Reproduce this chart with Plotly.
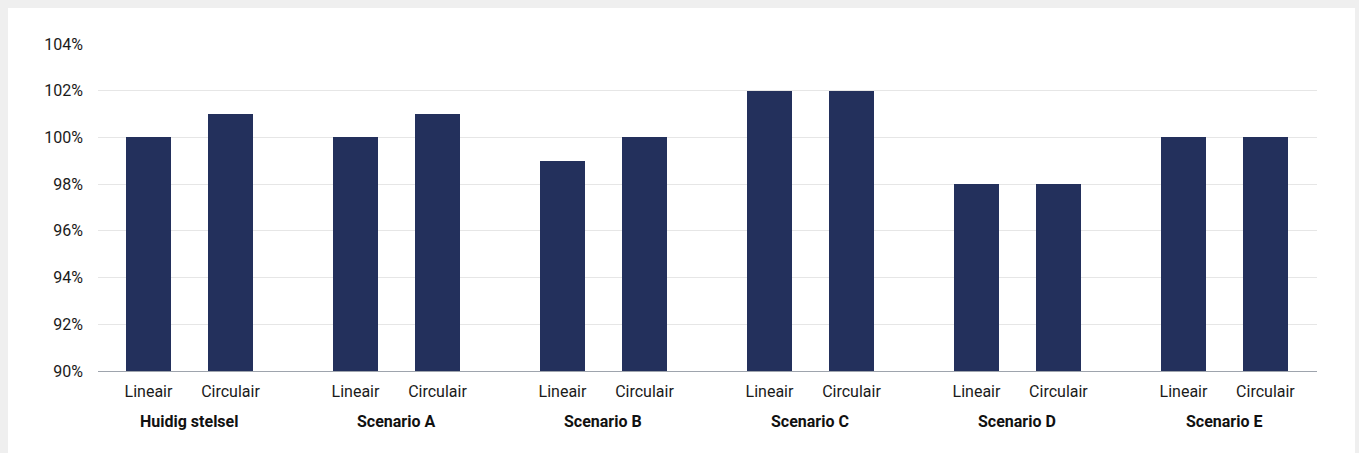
import plotly.graph_objects as go

groups = ["Huidig stelsel", "Scenario A", "Scenario B", "Scenario C", "Scenario D", "Scenario E"]
series_names = ["Lineair", "Circulair"]
lineair = [100, 100, 99, 102, 98, 100]
circulair = [101, 101, 100, 102, 98, 100]
y_ticks = [90, 92, 94, 96, 98, 100, 102, 104]

BAR = "#23305c"
OFF = 0.198
W = 0.217
FONT = "Roboto"
TXT = "#1a1a1a"

fig = go.Figure()
for name, vals, sign in [(series_names[0], lineair, -1), (series_names[1], circulair, 1)]:
    fig.add_trace(go.Bar(
        x=[i + sign * OFF for i in range(len(groups))],
        y=vals,
        width=W,
        name=name,
        marker=dict(color=BAR, line=dict(width=0)),
        hovertemplate="%{y}%<extra>" + name + "</extra>",
    ))

tickvals, ticktext = [], []
for i in range(len(groups)):
    tickvals += [i - OFF, i + OFF]
    ticktext += series_names

for i, g in enumerate(groups):
    fig.add_annotation(x=i, y=0, xref="x", yref="paper", text="<b>" + g + "</b>",
                       showarrow=False, yanchor="middle", yshift=-50,
                       font=dict(family=FONT, size=16, color="#111111"))

fig.add_shape(type="rect", xref="paper", yref="paper",
              x0=(8 - 98) / 1219, x1=(1355 - 98) / 1219,
              y0=-0.4, y1=(371 - 8) / 327,
              fillcolor="white", line=dict(width=0), layer="below")

fig.update_layout(
    width=1359, height=453,
    margin=dict(l=98, r=42, t=44, b=82),
    paper_bgcolor="#efefef",
    plot_bgcolor="rgba(0,0,0,0)",
    showlegend=False,
    bargap=0,
    font=dict(family=FONT, size=16, color=TXT),
    xaxis=dict(range=[-0.442, 5.447], tickvals=tickvals, ticktext=ticktext,
               showgrid=False, zeroline=False, showline=True, linecolor="#9ea4ad", linewidth=1,
               ticks="", ticklabelstandoff=6, tickfont=dict(family=FONT, size=16, color=TXT)),
    yaxis=dict(range=[90, 104], tickvals=y_ticks, ticktext=[f"{v}%" for v in y_ticks],
               showgrid=True, gridcolor="#e6e6e6", gridwidth=1, zeroline=False,
               showline=False, ticks="", ticklabelstandoff=14,
               tickfont=dict(family=FONT, size=16, color=TXT)),
)

fig.write_html("out.html")
